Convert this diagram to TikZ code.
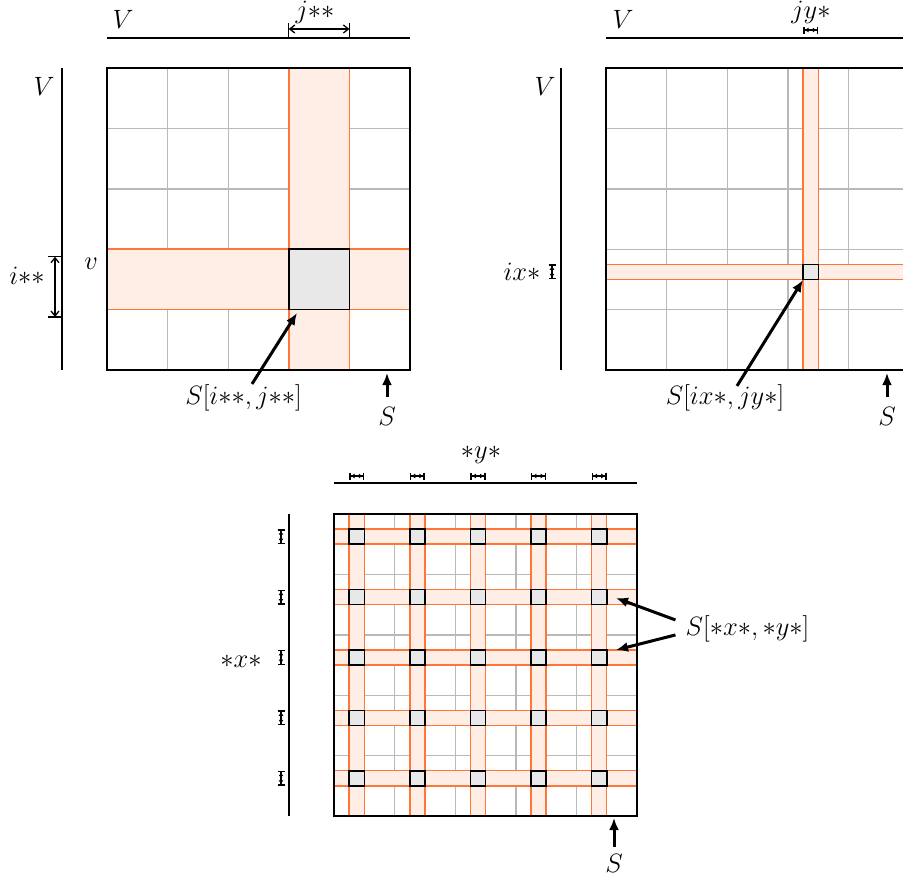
\RequirePackage{fix-cm}
\documentclass[tikz,border=0pt]{standalone}
\usetikzlibrary{arrows.meta}
\definecolor{orl}{RGB}{255,118,55}
\definecolor{orf}{RGB}{255,238,230}
\definecolor{grl}{RGB}{185,185,185}
\definecolor{sqf}{RGB}{232,232,232}
\tikzset{
  lbl/.style={font=\fontsize{26.5}{32}\selectfont, inner sep=0pt, anchor=base},
  gridln/.style={draw=grl, line width=1.4pt},
  band/.style={fill=orf, draw=orl, line width=1.5pt},
  cellsq/.style={fill=sqf, draw=black, line width=1.6pt},
  frame/.style={draw=black, line width=2pt},
  axis/.style={draw=black, line width=1.5pt},
  pointer/.style={draw=black, line width=3pt, -{Latex[length=12pt,width=10pt]}},
  bigdim/.style={line width=1.3pt, {Straight Barb[length=5pt,width=8pt]}-{Straight Barb[length=5pt,width=8pt]}},
  smalldim/.style={line width=1.5pt, {Bar[width=7pt]Latex[length=4pt,width=5pt]}-{Latex[length=4pt,width=5pt]Bar[width=7pt]}},
}
\newcommand\mygrid[2]{%
  \foreach \k in {1,...,4}{%
    \draw[gridln] ({#1+\k*60.6},#2) -- ({#1+\k*60.6},{#2+302});
    \draw[gridln] (#1,{#2+\k*60.4}) -- ({#1+303},{#2+\k*60.4});
  }}
\begin{document}
\begin{tikzpicture}[x=1pt,y=-1pt]
\useasboundingbox (0,0) rectangle (903,878);

% ---------------- top-left panel ----------------
\mygrid{107}{68}
\draw[band] (288.8,68) rectangle (349.4,370);
\draw[band] (107,249.2) rectangle (410,309.6);
\draw[cellsq] (288.8,249.2) rectangle (349.4,309.6);
\draw[frame] (107,68) rectangle (410,370);
\draw[axis] (107,38) -- (410,38);
\draw[axis] (62,68) -- (62,370);
\draw[line width=1.3pt] (288.8,38) -- (288.8,23);
\draw[line width=1.3pt] (349.4,38) -- (349.4,23);
\draw[bigdim] (288.8,29) -- (349.4,29);
\draw[line width=1.3pt] (48,256.7) -- (62,256.7);
\draw[line width=1.3pt] (48,317) -- (62,317);
\draw[bigdim] (55,256.7) -- (55,317);
\node[lbl] (tlV) at (123,28) {$V$};
\node[lbl] (tlj) at (315,19) {$j{*}{*}$};
\node[lbl] (tlVl) at (44,95) {$V$};
\node[lbl] (tlv) at (91,269) {$v$};
\node[lbl] (tli) at (27,284) {$i{*}{*}$};
\node[lbl] (tlS1) at (243.5,404) {$S[i{*}{*},j{*}{*}]$};
\node[lbl] (tlS) at (387,425) {$S$};
\coordinate (tlsq) at (297,313);
\coordinate (tlbot) at (387,373);
\draw[pointer] ([xshift=8.5pt]tlS1.north) -- (tlsq);
\draw[pointer] ([yshift=10pt]tlS.north) -- (tlbot);

% ---------------- top-right panel ----------------
\mygrid{606}{68}
\draw[band] (803,68) rectangle (818.3,370);
\draw[band] (606,264.3) rectangle (909,279.4);
\draw[cellsq] (803,264.3) rectangle (818.3,279.4);
\draw[frame] (606,68) rectangle (909,370);
\draw[axis] (606,38) -- (909,38);
\draw[axis] (561,68) -- (561,370);
\draw[smalldim] (803,30) -- (818.3,30);
\draw[smalldim] (552,264.3) -- (552,279.4);
\node[lbl] (trV) at (623,28) {$V$};
\node[lbl] (trj) at (811,18) {$jy{*}$};
\node[lbl] (trVl) at (545,95) {$V$};
\node[lbl] (tri) at (522,280) {$ix{*}$};
\node[lbl] (trS1) at (725,404) {$S[ix{*},jy{*}]$};
\node[lbl] (trS) at (887,425) {$S$};
\coordinate (trsq) at (803,280);
\coordinate (trbot) at (887,373);
\draw[pointer] ([xshift=12pt,yshift=-2pt]trS1.north) -- (trsq);
\draw[pointer] ([yshift=10pt]trS.north) -- (trbot);

% ---------------- bottom panel ----------------
\mygrid{334}{514}
\foreach \k in {0,...,4}{%
  \draw[band] ({334+\k*60.6+15.15},514) rectangle ({334+\k*60.6+30.3},816);
}
\foreach \k in {0,...,4}{%
  \draw[band] (334,{514+\k*60.4+15.1}) rectangle (637,{514+\k*60.4+30.2});
}
\foreach \i in {0,...,4}{%
  \foreach \j in {0,...,4}{%
    \draw[cellsq] ({334+\j*60.6+15.15},{514+\i*60.4+15.1}) rectangle ({334+\j*60.6+30.3},{514+\i*60.4+30.2});
  }
}
\draw[frame] (334,514) rectangle (637,816);
\draw[axis] (334,483) -- (637,483);
\draw[axis] (289,514) -- (289,816);
\foreach \k in {0,...,4}{%
  \draw[smalldim] ({334+\k*60.6+15.15},476) -- ({334+\k*60.6+30.3},476);
  \draw[smalldim] (281,{514+\k*60.4+15.1}) -- (281,{514+\k*60.4+30.2});
}
\node[lbl] (by) at (481,458) {${*}y{*}$};
\node[lbl] (bx) at (241,667) {${*}x{*}$};
\node[lbl] (bS1) at (747.5,635.5) {$S[{*}x{*},{*}y{*}]$};
\node[lbl] (bS) at (614,872) {$S$};
\coordinate (bsq1) at (616,598);
\coordinate (bsq2) at (616,650);
\coordinate (bbot) at (614,818);
\draw[pointer] ([xshift=-10pt,yshift=-4.5pt]bS1.north west) -- (bsq1);
\draw[pointer] ([xshift=-10pt,yshift=-19.5pt]bS1.north west) -- (bsq2);
\draw[pointer] ([yshift=7pt]bS.north) -- (bbot);
\end{tikzpicture}
\end{document}
